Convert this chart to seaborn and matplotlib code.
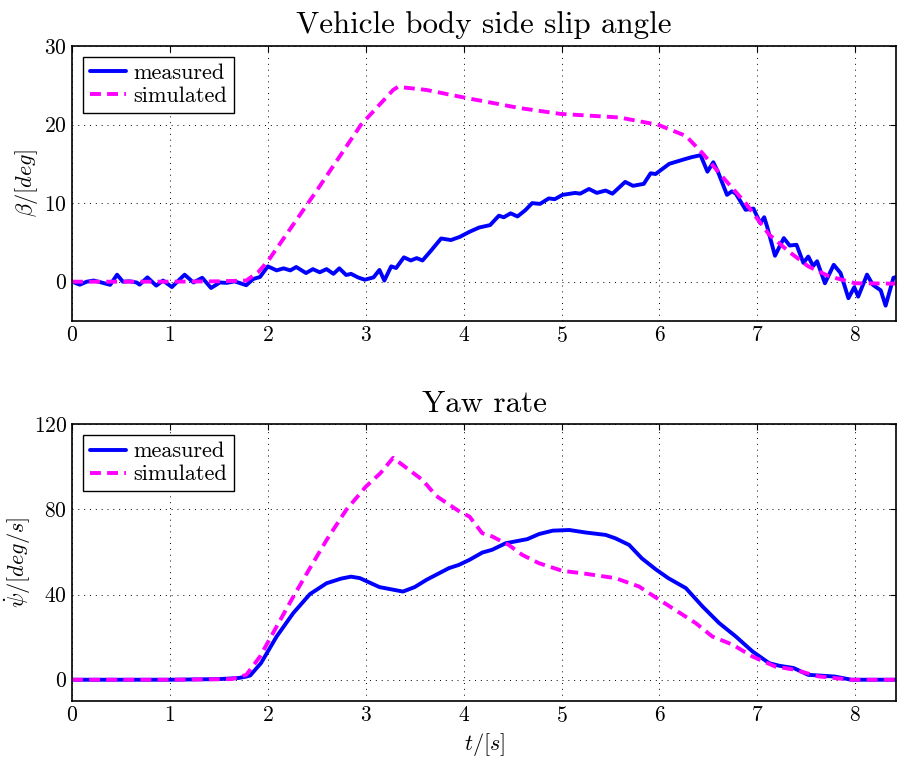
import numpy as np
import pandas as pd
import matplotlib
matplotlib.use("Agg")
import matplotlib.pyplot as plt
import seaborn as sns

# Vehicle body side slip angle beta [deg]
beta_meas_t = [0.00, 0.08, 0.15, 0.22, 0.30, 0.39, 0.46, 0.52, 0.59, 0.66, 0.69, 0.77,
               0.86, 0.93, 1.02, 1.10, 1.15, 1.24, 1.33, 1.42, 1.51, 1.58, 1.66, 1.72,
               1.78, 1.85, 1.92, 2.00, 2.09, 2.16, 2.23, 2.29, 2.39, 2.46, 2.53, 2.60,
               2.67, 2.73, 2.80, 2.85, 2.92, 2.99, 3.08, 3.14, 3.19, 3.26, 3.31, 3.39,
               3.46, 3.52, 3.58, 3.67, 3.77, 3.87, 3.96, 4.06, 4.16, 4.27, 4.36, 4.41,
               4.48, 4.55, 4.63, 4.70, 4.78, 4.87, 4.93, 5.01, 5.14, 5.19, 5.28, 5.36,
               5.45, 5.52, 5.65, 5.73, 5.84, 5.91, 5.96, 6.10, 6.18, 6.26, 6.33, 6.42,
               6.49, 6.55, 6.60, 6.69, 6.74, 6.78, 6.88, 6.96, 7.03, 7.07, 7.10, 7.18,
               7.27, 7.33, 7.40, 7.47, 7.52, 7.57, 7.61, 7.69, 7.78, 7.85, 7.93, 7.99,
               8.03, 8.12, 8.18, 8.26, 8.31, 8.39, 8.42]
beta_meas = [0.0, -0.38, 0.0, 0.15, -0.1, -0.4, 0.89, 0.0, 0.05, -0.1, -0.38, 0.55,
             -0.5, 0.15, -0.68, 0.3, 0.89, -0.1, 0.5, -0.8, -0.1, -0.15, 0.04, -0.2,
             -0.45, 0.34, 0.6, 1.95, 1.44, 1.7, 1.44, 1.87, 1.1, 1.6, 1.2, 1.6,
             1.0, 1.7, 0.85, 1.0, 0.55, 0.25, 0.55, 1.5, 0.15, 1.95, 1.74, 3.1,
             2.7, 3.0, 2.7, 4.0, 5.5, 5.3, 5.7, 6.35, 6.9, 7.2, 8.4, 8.2,
             8.7, 8.3, 9.1, 10.0, 9.9, 10.6, 10.5, 11.05, 11.3, 11.2, 11.8, 11.3,
             11.6, 11.2, 12.7, 12.2, 12.45, 13.8, 13.7, 15.0, 15.3, 15.6, 15.85, 16.1,
             14.0, 15.2, 13.9, 11.05, 11.5, 11.2, 9.15, 9.3, 7.45, 8.2, 7.0, 3.3,
             5.55, 4.6, 4.7, 2.4, 3.2, 2.0, 2.6, -0.2, 2.15, 1.1, -2.1, -0.7,
             -1.9, 0.9, -0.4, -1.1, -3.05, 0.5, 0.6]

beta_sim_t = [0.0, 1.0, 1.5, 1.78, 1.9, 2.0, 2.5, 2.95, 3.28, 3.33, 3.62, 4.06, 4.57,
              4.99, 5.59, 5.99, 6.27, 6.44, 6.64, 6.88, 7.12, 7.32, 7.52, 7.73, 8.0, 8.42]
beta_sim = [0.0, 0.0, 0.05, 0.15, 1.2, 2.6, 11.6, 19.95, 24.4, 24.8, 24.4, 23.3, 22.1,
            21.35, 20.9, 19.95, 18.55, 16.35, 13.4, 10.0, 6.0, 3.85, 1.95, 0.7, -0.2, -0.25]

# Yaw rate psi_dot [deg/s]
yaw_meas_t = [0.0, 0.5, 1.0, 1.5, 1.7, 1.78, 1.82, 1.93, 2.09, 2.26, 2.43, 2.60, 2.75,
              2.85, 2.94, 3.14, 3.38, 3.50, 3.62, 3.85, 3.95, 4.06, 4.19, 4.29, 4.43,
              4.65, 4.77, 4.91, 5.08, 5.25, 5.45, 5.55, 5.69, 5.82, 5.96, 6.09, 6.27,
              6.44, 6.61, 6.78, 6.95, 7.12, 7.22, 7.37, 7.52, 7.79, 7.96, 8.42]
yaw_meas = [0.0, 0.0, 0.0, 0.3, 0.8, 1.5, 2.0, 7.8, 20.3, 31.3, 40.2, 45.3, 47.5,
            48.4, 47.7, 43.5, 41.4, 43.5, 46.9, 52.4, 53.9, 56.3, 59.7, 61.0, 64.1,
            66.0, 68.4, 70.0, 70.3, 69.1, 68.0, 66.4, 63.3, 57.0, 51.9, 47.7, 43.0,
            34.4, 26.6, 20.3, 13.3, 7.8, 6.6, 5.5, 2.3, 1.5, 0.0, 0.0]

yaw_sim_t = [0.0, 1.0, 1.63, 1.78, 1.92, 2.09, 2.26, 2.43, 2.60, 2.80, 3.00, 3.15,
             3.28, 3.40, 3.58, 3.72, 3.82, 3.96, 4.06, 4.19, 4.29, 4.46, 4.60, 4.77,
             5.01, 5.21, 5.55, 5.79, 5.99, 6.16, 6.37, 6.54, 6.75, 6.95, 7.18, 7.38,
             7.62, 7.96, 8.42]
yaw_sim = [0.0, 0.0, 0.3, 2.3, 10.9, 25.0, 39.0, 52.4, 65.6, 79.7, 90.6, 97.0,
           104.2, 100.0, 93.8, 86.3, 83.2, 78.9, 76.6, 68.8, 67.3, 63.3, 58.6, 54.7,
           51.1, 50.0, 47.7, 43.8, 37.8, 32.8, 26.6, 20.3, 16.4, 10.9, 6.25, 4.7,
           1.6, 0.0, 0.0]

x_ticks = [0, 1, 2, 3, 4, 5, 6, 7, 8]
beta_ticks = [0, 10, 20, 30]
yaw_ticks = [0, 40, 80, 120]

sns.set_theme(style="white")
plt.rcParams.update({
    "font.family": ["cmr10", "DejaVu Serif"],
    "mathtext.fontset": "cm",
    "axes.formatter.use_mathtext": True,
    "axes.edgecolor": "black",
    "axes.linewidth": 1.2,
    "xtick.direction": "in",
    "ytick.direction": "in",
    "xtick.top": True,
    "ytick.right": True,
    "xtick.major.size": 4,
    "ytick.major.size": 4,
    "xtick.major.width": 0.8,
    "ytick.major.width": 0.8,
    "xtick.color": "black",
    "ytick.color": "black",
    "xtick.labelsize": 15.5,
    "ytick.labelsize": 15.5,
    "text.color": "black",
    "axes.labelcolor": "black",
})

fig = plt.figure(figsize=(8.98, 7.67), dpi=100)
ax1 = fig.add_axes([0.0802, 0.5815, 0.918, 0.3586])
ax2 = fig.add_axes([0.0802, 0.086, 0.918, 0.361])

meas_kw = dict(color="#0000ff", linewidth=2.8, estimator=None, sort=False)
sim_kw = dict(color="#ff00ff", linewidth=2.8, estimator=None, sort=False,
              linestyle=(0, (2.8, 1.6)))

panels = [
    (ax1, beta_meas_t, beta_meas, beta_sim_t, beta_sim, (-5, 30), beta_ticks,
     "Vehicle body side slip angle", r"$\beta/[deg]$", -0.0385),
    (ax2, yaw_meas_t, yaw_meas, yaw_sim_t, yaw_sim, (-10, 120), yaw_ticks,
     "Yaw rate", r"$\dot{\psi}/[deg/s]$", -0.047),
]

for ax, mt, mv, st, sv, ylim, yt, title, ylabel, lab_x in panels:
    sns.lineplot(x=mt, y=mv, ax=ax, label="measured", **meas_kw)
    sns.lineplot(x=st, y=sv, ax=ax, label="simulated", **sim_kw)
    ax.set_xlim(0, 8.42)
    ax.set_ylim(*ylim)
    ax.set_xticks(x_ticks)
    ax.set_yticks(yt)
    ax.grid(True, color="black", linestyle=(0, (1, 5)), linewidth=0.7)
    ax.set_axisbelow(True)
    ax.set_title(title, fontsize=22.3, pad=9)
    ax.set_ylabel(ylabel, fontsize=16)
    ax.yaxis.set_label_coords(lab_x, 0.5)
    for s in ax.spines.values():
        s.set_visible(True)
        s.set_color("black")
    leg = ax.legend(loc="upper left", fontsize=16, frameon=True, fancybox=False,
                    edgecolor="black", framealpha=1, borderpad=0.3,
                    handlelength=1.65, handletextpad=0.3, labelspacing=0.15,
                    borderaxespad=0.5)
    leg.get_frame().set_linewidth(1.0)

ax1.set_xlabel("")
ax2.set_xlabel(r"$t/[s]$", fontsize=16, labelpad=4)

fig.savefig("out.png", dpi=100)
